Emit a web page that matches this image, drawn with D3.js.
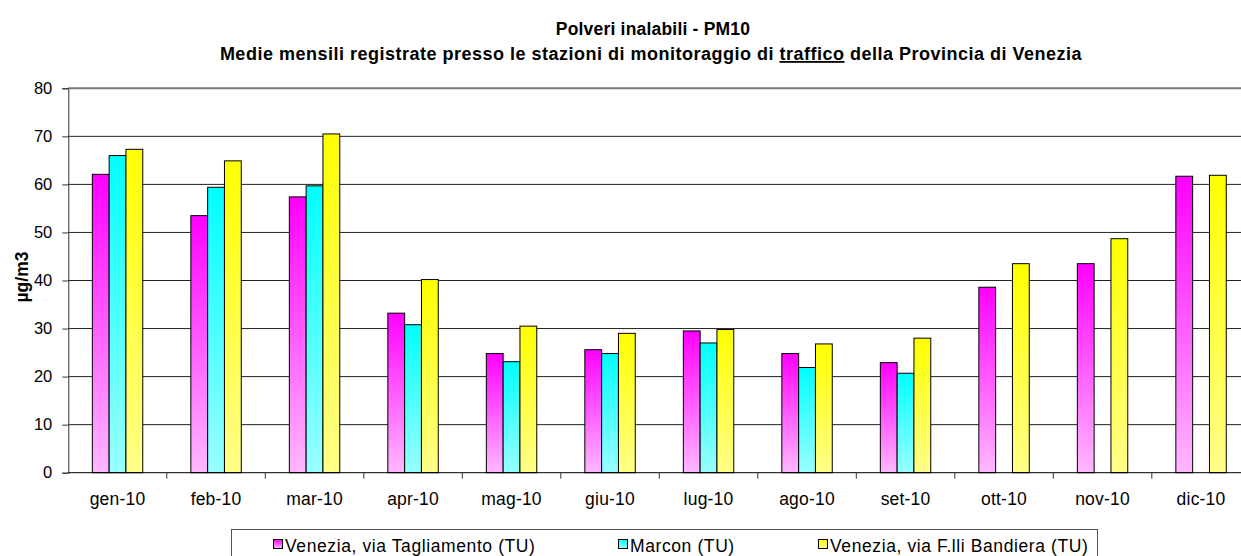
<!DOCTYPE html>
<html>
<head>
<meta charset="utf-8">
<script src="https://cdn.jsdelivr.net/npm/d3@7"></script>
<style>
  html, body { margin: 0; padding: 0; background: #fff; }
  svg { display: block; font-family: "Liberation Sans", Arial, sans-serif; }
</style>
</head>
<body>
<svg id="chart" width="1241" height="556"></svg>
<script>
// Monthly PM10 means (µg/m3) at the traffic stations, 2010
const months = ["gen-10", "feb-10", "mar-10", "apr-10", "mag-10", "giu-10",
                "lug-10", "ago-10", "set-10", "ott-10", "nov-10", "dic-10"];
const seriesNames = ["Venezia, via Tagliamento (TU)", "Marcon (TU)", "Venezia, via F.lli Bandiera (TU)"];
const tagliamento = [62.1, 53.5, 57.4, 33.2, 24.8, 25.6, 29.5, 24.8, 22.9, 38.6, 43.5, 61.7];
const marcon      = [66.0, 59.4, 59.7, 30.8, 23.1, 24.8, 27.0, 21.9, 20.7, null, null, null];
const bandiera    = [67.3, 64.9, 70.5, 40.2, 30.5, 29.0, 29.8, 26.8, 28.0, 43.5, 48.7, 61.9];
const yTicks = [0, 10, 20, 30, 40, 50, 60, 70, 80];
const titleLine1 = "Polveri inalabili - PM10";
const titleLine2 = ["Medie mensili registrate presso le stazioni di monitoraggio di ", "traffico", " della Provincia di Venezia"];
const yLabel = "µg/m3";

const seriesValues = [tagliamento, marcon, bandiera];
const colorsTop = ["#ff00ff", "#00ffff", "#ffff00"];
const colorsBottom = ["#ffb8ff", "#99ffff", "#ffff88"];

const svg = d3.select("#chart");
const plotLeft = 68.3, plotRight = 1250.3, plotTop = 88.3, plotBottom = 472.7;

const x0 = d3.scaleBand().domain(months).range([plotLeft, plotRight]).paddingInner(0).paddingOuter(0);
const x1 = d3.scaleBand().domain(d3.range(3)).range([0, x0.bandwidth()]).paddingInner(0).paddingOuter(1.43);
const y = d3.scaleLinear().domain([0, 80]).range([plotBottom, plotTop]);

// vertical gradients, one per series
const defs = svg.append("defs");
seriesNames.forEach((name, i) => {
  const g = defs.append("linearGradient").attr("id", "grad" + i)
    .attr("x1", 0).attr("y1", 0).attr("x2", 0).attr("y2", 1);
  g.append("stop").attr("offset", "0%").attr("stop-color", colorsTop[i]);
  g.append("stop").attr("offset", "100%").attr("stop-color", colorsBottom[i]);
});

// title
const title = svg.append("g").attr("font-weight", "bold").attr("text-anchor", "middle").attr("fill", "#000");
title.append("text").attr("x", 653).attr("y", 35).attr("font-size", 17.5).attr("letter-spacing", 0.2).text(titleLine1);
const t2 = title.append("text").attr("x", 651).attr("y", 60).attr("font-size", 18).attr("letter-spacing", 0.5);
t2.append("tspan").text(titleLine2[0]);
t2.append("tspan").style("text-decoration", "underline").text(titleLine2[1]);
t2.append("tspan").text(titleLine2[2]);

// horizontal gridlines
svg.append("g").selectAll("line").data(yTicks.filter(d => d > 0)).join("line")
  .attr("x1", plotLeft).attr("x2", plotRight)
  .attr("y1", d => y(d)).attr("y2", d => y(d))
  .attr("stroke", d => d === 80 ? "#777" : "#222").attr("stroke-width", d => d === 80 ? 2 : 1);

// bars
const groups = svg.append("g").selectAll("g").data(months).join("g")
  .attr("transform", d => `translate(${x0(d)},0)`);
groups.selectAll("rect")
  .data((m, mi) => seriesValues.map((vals, si) => ({ si, v: vals[mi] })).filter(d => d.v != null))
  .join("rect")
  .attr("x", d => x1(d.si))
  .attr("width", x1.bandwidth())
  .attr("y", d => y(d.v))
  .attr("height", d => y(0) - y(d.v))
  .attr("fill", d => `url(#grad${d.si})`)
  .attr("stroke", "#000").attr("stroke-width", 1);

// y axis
const yAxis = svg.append("g").attr("transform", `translate(${plotLeft},0)`)
  .call(d3.axisLeft(y).tickValues(yTicks).tickSize(6).tickPadding(10).tickFormat(d3.format("d")));
yAxis.select(".domain").attr("stroke", "#333");
yAxis.selectAll(".tick line").attr("stroke", "#333");
yAxis.selectAll("text").attr("font-size", 16.5).attr("font-family", "Liberation Sans, Arial, sans-serif").attr("fill", "#000");

// x axis with ticks at category boundaries
const xAxis = svg.append("g").attr("transform", `translate(0,${plotBottom})`);
xAxis.append("line").attr("x1", plotLeft).attr("x2", plotRight).attr("stroke", "#000");
xAxis.selectAll(".tk").data(months).join("line").attr("class", "tk")
  .attr("x1", d => x0(d) + x0.bandwidth()).attr("x2", d => x0(d) + x0.bandwidth())
  .attr("y1", 0).attr("y2", 6).attr("stroke", "#333");
xAxis.selectAll("text").data(months).join("text")
  .attr("x", d => x0(d) + x0.bandwidth() / 2).attr("y", 32)
  .attr("text-anchor", "middle").attr("font-size", 17.5).attr("letter-spacing", 0.2).attr("fill", "#000")
  .text(d => d);

// y axis title
svg.append("text").attr("transform", "translate(28,277) rotate(-90)")
  .attr("text-anchor", "middle").attr("font-weight", "bold").attr("font-size", 17.5)
  .text(yLabel);

// legend
const legend = svg.append("g");
legend.append("rect").attr("x", 231.5).attr("y", 529.5).attr("width", 866).attr("height", 40)
  .attr("fill", "#fff").attr("stroke", "#555");
const legendX = [273, 618, 818];
seriesNames.forEach((name, i) => {
  legend.append("rect").attr("x", legendX[i] + 0.5).attr("y", 539.5).attr("width", 9).attr("height", 9)
    .attr("fill", `url(#grad${i})`).attr("stroke", "#000");
  legend.append("text").attr("x", legendX[i] + 12).attr("y", 551.5)
    .attr("font-size", 17.5).attr("letter-spacing", 0.6).attr("fill", "#000").text(name);
});
</script>
</body>
</html>
